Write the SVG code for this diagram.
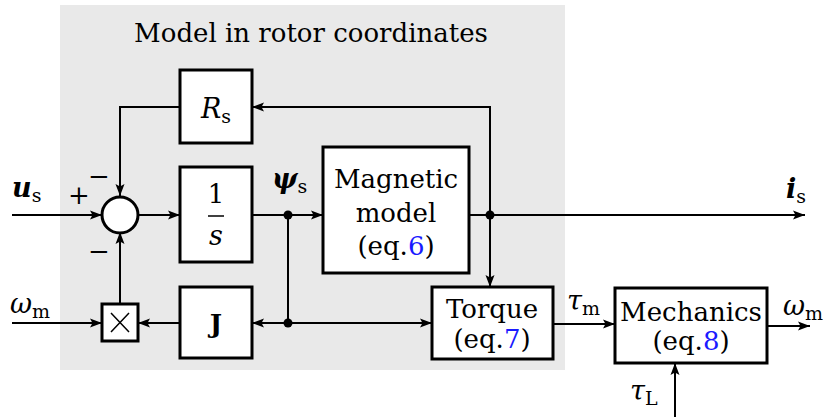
<svg xmlns="http://www.w3.org/2000/svg" width="824" height="417" viewBox="0 0 824 417">
<style>
.box{fill:#fff;stroke:#000;stroke-width:3}
.ln{fill:none;stroke:#000;stroke-width:2}
.t{font-family:"DejaVu Serif",serif;font-size:26px;fill:#000}
.m{font-family:"DejaVu Serif",serif;font-size:27px;font-style:italic;fill:#000}
.sub{font-style:normal;font-size:19px}
.ref{fill:#1a1aff}
</style>
<defs>
<marker id="ar" markerUnits="userSpaceOnUse" markerWidth="13" markerHeight="10" refX="12" refY="5" orient="auto">
<path d="M0,0.5 L12,5 L0,9.5 L2.5,5 Z" fill="#000"/>
</marker>
</defs>
<rect x="60" y="5" width="505" height="365" fill="#e9e9e9"/>
<text class="t" x="311" y="42" text-anchor="middle" font-size="27">Model in rotor coordinates</text>

<g id="connectors">
<path class="ln" d="M12,215 H102" marker-end="url(#ar)"/>
<path class="ln" d="M138,215 H180" marker-end="url(#ar)"/>
<path class="ln" d="M252,215 H323" marker-end="url(#ar)"/>
<path class="ln" d="M288,215 V323"/>
<path class="ln" d="M288,323 H252" marker-end="url(#ar)"/>
<path class="ln" d="M288,323 H432" marker-end="url(#ar)"/>
<path class="ln" d="M469,215 H805" marker-end="url(#ar)"/>
<path class="ln" d="M490,215 V107 H252" marker-end="url(#ar)"/>
<path class="ln" d="M490,215 V287" marker-end="url(#ar)"/>
<path class="ln" d="M180,107 H120 V196" marker-end="url(#ar)"/>
<path class="ln" d="M120,303 V232" marker-end="url(#ar)"/>
<path class="ln" d="M180,323 H138" marker-end="url(#ar)"/>
<path class="ln" d="M12,323 H102" marker-end="url(#ar)"/>
<path class="ln" d="M553,324 H615" marker-end="url(#ar)"/>
<path class="ln" d="M767,326 H810" marker-end="url(#ar)"/>
<path class="ln" d="M675,417 V363" marker-end="url(#ar)"/>
<circle cx="288" cy="215" r="4.5"/>
<circle cx="288" cy="323" r="4.5"/>
<circle cx="490" cy="215" r="4.5"/>
</g>

<g id="sum">
<circle cx="120" cy="215" r="18" fill="#fff" stroke="#000" stroke-width="3"/>
<text class="t" x="79" y="204" text-anchor="middle">+</text>
<text class="t" x="99" y="185" text-anchor="middle">−</text>
<text class="t" x="99" y="260" text-anchor="middle">−</text>
</g>

<g id="Rs">
<rect class="box" x="180" y="70" width="72" height="73"/>
<text class="m" x="216" y="118" text-anchor="middle">R<tspan class="sub" dy="5">s</tspan></text>
</g>

<g id="integrator">
<rect class="box" x="180" y="167" width="72" height="95"/>
<text class="t" x="216" y="203" text-anchor="middle" font-size="27">1</text>
<line x1="208" y1="216" x2="224" y2="216" stroke="#000" stroke-width="1.5"/>
<text class="m" x="216" y="245" text-anchor="middle">s</text>
</g>

<g id="J">
<rect class="box" x="180" y="287" width="72" height="71"/>
<text class="t" x="216" y="333" text-anchor="middle" font-weight="bold" font-size="27">J</text>
</g>

<g id="mult">
<rect class="box" x="102" y="304" width="36" height="37"/>
<path d="M111,313 L129,332 M129,313 L111,332" stroke="#000" stroke-width="1.5"/>
</g>

<g id="magnetic">
<rect class="box" x="323" y="147" width="146" height="126"/>
<text class="t" x="396" y="188" text-anchor="middle">Magnetic</text>
<text class="t" x="396" y="222" text-anchor="middle">model</text>
<text class="t" x="396" y="255" text-anchor="middle">(eq.<tspan class="ref">6</tspan>)</text>
</g>

<g id="torque">
<rect class="box" x="432" y="287" width="121" height="72"/>
<text class="t" x="492" y="318" text-anchor="middle" font-size="25">Torque</text>
<text class="t" x="492" y="348" text-anchor="middle" font-size="25">(eq.<tspan class="ref">7</tspan>)</text>
</g>

<g id="mechanics">
<rect class="box" x="615" y="288" width="152" height="75"/>
<text class="t" x="691" y="321" text-anchor="middle" font-size="24.5">Mechanics</text>
<text class="t" x="691" y="350" text-anchor="middle" font-size="24.5">(eq.<tspan class="ref">8</tspan>)</text>
</g>

<g id="labels">
<text class="m" x="12" y="197" font-weight="bold">u<tspan class="sub" font-weight="normal" dy="5">s</tspan></text>
<text class="m" x="10" y="313">ω<tspan class="sub" dy="5">m</tspan></text>
<text class="m" x="272" y="188" font-weight="bold">ψ<tspan class="sub" font-weight="normal" dy="5">s</tspan></text>
<text class="m" x="786" y="198" font-weight="bold">i<tspan class="sub" font-weight="normal" dy="5">s</tspan></text>
<text class="m" x="567" y="310">τ<tspan class="sub" dy="5">m</tspan></text>
<text class="m" x="783" y="315">ω<tspan class="sub" dy="5">m</tspan></text>
<text class="m" x="630" y="400">τ<tspan class="sub" dy="5">L</tspan></text>
</g>
</svg>
